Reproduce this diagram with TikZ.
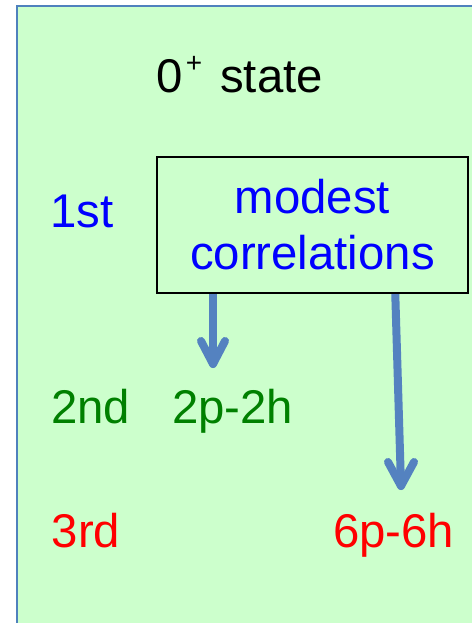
\documentclass[tikz,border=0pt]{standalone}
\usepackage{fontspec}
\setmainfont{Liberation Sans}
\usetikzlibrary{calc}
\definecolor{bggreen}{RGB}{204,255,204}
\definecolor{edgeblue}{RGB}{79,129,189}
\definecolor{arrowblue}{RGB}{84,130,192}
\definecolor{txtgreen}{RGB}{0,128,0}
\newlength{\pxu}
\setlength{\pxu}{0.75pt}
\tikzset{
  lbl/.style={inner sep=0pt, anchor=base west, font=\fontsize{35.5}{40}\selectfont},
  flow/.style={draw=arrowblue, line width=6pt, line cap=round, line join=round},
  textbox/.style={draw=black, line width=1.5pt, fill=bggreen, align=center,
    inner sep=0pt, minimum width=311\pxu, minimum height=136\pxu,
    font=\fontsize{35.5}{42}\selectfont, text=blue}
}
\begin{document}
\begin{tikzpicture}[x=0.75pt,y=-0.75pt]
\useasboundingbox (0,0) rectangle (471,623);
\fill[white] (0,0) rectangle (471,623);
\filldraw[fill=bggreen, draw=edgeblue, line width=1.5pt] (16.5,6.5) rectangle (480,640);

% arrows (drawn before the box so the box border lies over them)
\coordinate (a1e) at (213,364);
\coordinate (a2s) at (395,285);
\coordinate (a2e) at (401,486);
\draw[flow] (213,285) -- (a1e);
\draw[flow] ($(a1e)+(-12,-23)$) -- (a1e) -- ($(a1e)+(12,-23)$);
\draw[flow] (a2s) -- (a2e);
\draw[flow] ($(a2e)+(-13,-24)$) -- (a2e) -- ($(a2e)+(13,-24)$);

\node[textbox] (box) at (312.5,225) {modest\\correlations};

\node[lbl] (title) at (156,93) {0\hspace{2.5pt}\raisebox{15pt}{\fontsize{21}{21}\selectfont +}\hspace{13.5pt}state};
\node[lbl, text=blue] (l1) at (50,228) {1st};
\node[lbl, text=txtgreen] (l2) at (51,423) {2nd};
\node[lbl, text=txtgreen] (t2) at (172,423) {2p-2h};
\node[lbl, text=red] (l3) at (51.5,547) {3rd};
\node[lbl, text=red] (t3) at (333,547) {6p-6h};
\end{tikzpicture}
\end{document}
